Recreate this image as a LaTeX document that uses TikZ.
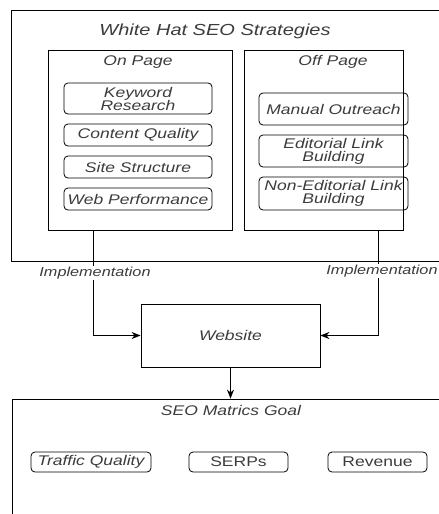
\documentclass[tikz,border=0pt]{standalone}
\usepackage{fontspec}
\setmainfont{Liberation Sans}[FakeStretch=1.25]
\usepackage{xcolor}
\usepackage{tikz}
\usetikzlibrary{arrows.meta}
\definecolor{txtgray}{HTML}{3C3C3C}
\tikzset{
    box/.style = {draw, thick, inner sep = 0pt},
    item/.style = {draw, thick, rounded corners = 4pt, inner sep = 0pt, align = center, font = \fontsize{14}{15}\selectfont\itshape, text = txtgray},
    goal/.style = {item, minimum width = 99pt, minimum height = 20pt},
    caption/.style = {inner sep = 1pt, font = \fontsize{14}{15}\selectfont\itshape, text = txtgray},
    impl/.style = {fill = white, inner sep = 1pt, font = \fontsize{13}{14}\selectfont\itshape, text = txtgray},
    arr/.style = {thick, -{Stealth[length = 9pt, width = 7pt]}}
}
\begin{document}
\begin{tikzpicture}[x = 1pt, y = -1pt]
                        \useasboundingbox (0,0) rectangle (439,514);
                        \node (S) [box, minimum width = 434pt, minimum height = 251pt] at (228,135.5) {};
                        \node (St) [caption, font = \fontsize{16}{17}\selectfont\itshape] at (215,31) {White Hat SEO Strategies};

                        \node (On) [box, minimum width = 184pt, minimum height = 180pt] at (140,140) {};
                        \node (Ont) [caption] at (138,62) {On Page};
                        \node (K) [item, minimum width = 148pt, minimum height = 31pt] at (138,98.5) {Keyword\\[-2pt]Research};
                        \node (C) [item, minimum width = 148pt, minimum height = 22pt] at (138,135) {Content Quality};
                        \node (Si) [item, minimum width = 148pt, minimum height = 22pt] at (138,167) {Site Structure};
                        \node (W) [item, minimum width = 148pt, minimum height = 22pt] at (138,199) {Web Performance};

                        \node (Off) [box, minimum width = 159pt, minimum height = 180pt] at (323.5,140) {};
                        \node (Offt) [caption] at (333,62) {Off Page};
                        \node (M) [item, minimum width = 149pt, minimum height = 32pt] at (333.5,109) {Manual Outreach};
                        \node (E) [item, minimum width = 149pt, minimum height = 32pt] at (333.5,151) {Editorial Link\\[-2pt]Building};
                        \node (N) [item, minimum width = 149pt, minimum height = 33pt] at (333.5,193.5) {Non-Editorial Link\\[-2pt]Building};

                        \node (Web) [box, minimum width = 179pt, minimum height = 63pt, caption] at (230.5,335.5) {Website};

                        \node (G) [box, minimum width = 438pt, minimum height = 131pt] at (231,464.5) {};
                        \node (Gt) [caption] at (231,410) {SEO Matrics Goal};
                        \node (T) [goal, minimum width = 120pt] at (91,462) {Traffic Quality};
                        \node (R) [goal, font = \fontsize{14}{15}\selectfont] at (238.5,462) {SERPs};
                        \node (V) [goal, font = \fontsize{14}{15}\selectfont] at (377.5,462) {Revenue};

                        \coordinate (l) at (93,230);
                        \coordinate (r) at (378,230);
                        \draw [arr] (l) |- (Web.west);
                        \draw [arr] (r) |- (Web.east);
                        \draw [arr] (Web.south) -- (Web.south |- G.north);

                        \node (Il) [impl] at (95,273) {Implementation};
                        \node (Ir) [impl] at (382,271) {Implementation};
                    \end{tikzpicture}
\end{document}
